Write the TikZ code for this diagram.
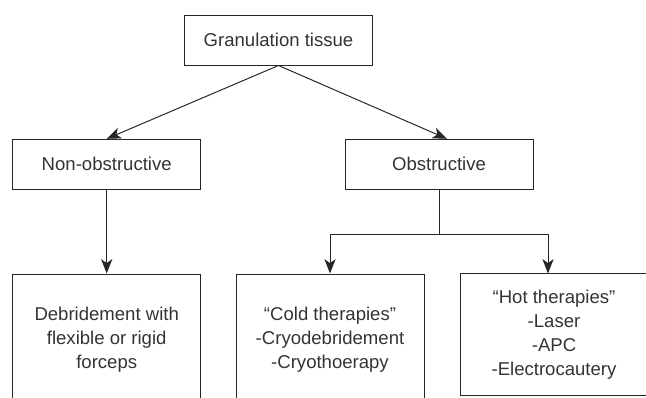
\documentclass[tikz,border=0pt]{standalone}
\usepackage{fontspec}
\setmainfont{Liberation Sans}
\usetikzlibrary{arrows.meta}

\begin{document}
\begin{tikzpicture}[align=center,font=\fontsize{13.2}{17}\selectfont,
    box/.style={draw=black!85,line width=0.7pt,text=black!80,minimum width=4.7cm,minimum height=1.25cm,inner sep=0pt},
    link/.style={draw=black!85,line width=0.7pt,-{Stealth[length=0.36cm,width=0.28cm,inset=0.1cm]}}]

\useasboundingbox (0,0) rectangle (16.15,9.925);

\node[box] (granulation) at (6.9625,8.925) {Granulation tissue};

\node[box] (nonobstructive) at (2.6675,5.8175) {Non-obstructive};
\node[box] (obstructive) at (10.975,5.8175) {Obstructive};

\node[box,minimum height=3.3cm] (debridement) at (2.6675,1.425) {Debridement with\\flexible or rigid\\forceps};
\node[box,minimum height=3.3cm] (cold) at (8.25,1.425) {“Cold therapies”\\-Cryodebridement\\-Cryothoerapy};
\node[box,minimum height=3.04cm] (hot) at (13.85,1.556) {“Hot therapies”\\-Laser\\-APC\\-Electrocautery};

\coordinate (split) at (10.975,4.075);

\draw[link] (granulation.south) -- (nonobstructive.north);
\draw[link] (granulation.south) -- ([xshift=0.2cm]obstructive.north);
\draw[link] (nonobstructive.south) -- (debridement.north);
\draw[draw=black!85,line width=0.7pt] (obstructive.south) -- (split);
\draw[link] (split) -| (cold.north);
\draw[link] (split) -| ([xshift=-0.15cm]hot.north);

\end{tikzpicture}
\end{document}
